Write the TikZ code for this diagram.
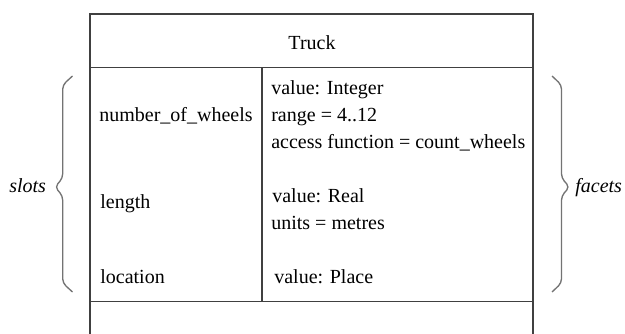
\documentclass[tikz,border=0pt]{standalone}
\usepackage{fontspec}
\setmainfont{Liberation Serif}
\begin{document}
\begin{tikzpicture}[x=0.6pt,y=-0.6pt,
  frame/.style={draw=black!75,line width=0.9pt},
  bracestyle/.style={draw=black!55,line width=0.8pt,rounded corners=2.5pt},
  txt/.style={font=\fontsize{12}{14}\selectfont,inner sep=0pt,anchor=base west},
  lbl/.style={font=\fontsize{12}{14}\selectfont\itshape,inner sep=0pt,anchor=base west}]
\useasboundingbox (0,0) rectangle (625,334);
% frame
\draw[frame] (90,334) -- (90,14) -- (533,14) -- (533,334);
\draw[frame] (90,67.5) -- (533,67.5);
\draw[frame] (90,301.5) -- (533,301.5);
\draw[frame] (262,67.5) -- (262,301.5);
% title
\node[font=\fontsize{12}{14}\selectfont,inner sep=0pt,anchor=base] (title) at (312,50) {Truck};
% slots
\node[txt] (s1) at (99,122) {number\_of\_wheels};
\node[txt] (s2) at (100,209) {length};
\node[txt] (s3) at (100,283) {location};
% facets
\node[txt] (f1) at (271,95) {value: Integer};
\node[txt] (f2) at (271,122) {range = 4..12};
\node[txt] (f3) at (271,148.5) {access function = count\_wheels};
\node[txt] (f4) at (272,203) {value: Real};
\node[txt] (f5) at (271,229.5) {units = metres};
\node[txt] (f6) at (274,283) {value: Place};
% braces
\draw[bracestyle] (72.5,76) -- (62.7,85) -- (62.7,178) -- (55,187) -- (62.7,196) -- (62.7,283) -- (72.5,292);
\draw[bracestyle] (552,76) -- (561.5,85) -- (561.5,178) -- (569.5,187) -- (561.5,196) -- (561.5,283) -- (552,292);
\node[lbl] (slots) at (9,193) {slots};
\node[lbl] (facets) at (575,193) {facets};
\end{tikzpicture}
\end{document}
